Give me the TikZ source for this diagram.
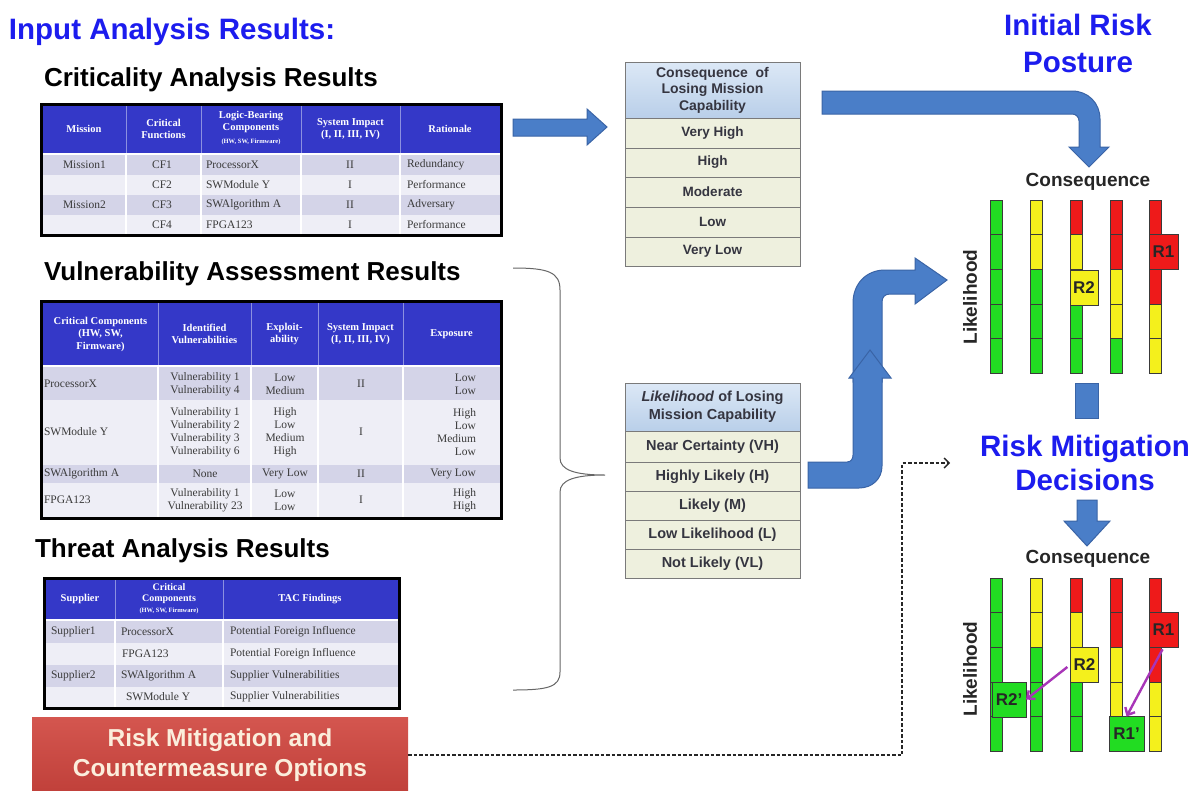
\documentclass[tikz,border=0pt]{standalone}
\usepackage{fontspec}
\setmainfont{Liberation Sans}
\newfontfamily\tabfont{Liberation Serif}
\usetikzlibrary{arrows.meta}

\definecolor{titleblue}{HTML}{1C1CEE}
\definecolor{arrowblue}{HTML}{4A7EC8}
\definecolor{arrowedge}{HTML}{3A64A6}
\definecolor{hdrblue}{HTML}{3438C8}
\definecolor{hdrline}{HTML}{8C90E0}
\definecolor{rowdark}{HTML}{D4D4E8}
\definecolor{rowlight}{HTML}{EEEEF6}
\definecolor{tabgray}{HTML}{3A3A3A}
\definecolor{mG}{HTML}{22DC22}
\definecolor{mY}{HTML}{F4F01C}
\definecolor{mR}{HTML}{EE1A1A}
\definecolor{gridline}{HTML}{3A3A3A}
\definecolor{purp}{HTML}{A835B8}
\definecolor{scaletop}{HTML}{DCE8F6}
\definecolor{scalebot}{HTML}{B9CFE9}
\definecolor{scalerow}{HTML}{EEF0DE}
\definecolor{scaleedge}{HTML}{7A7A7A}
\definecolor{scaletext}{HTML}{353540}
\definecolor{opttop}{HTML}{D4564F}
\definecolor{optbot}{HTML}{C0403A}
\definecolor{opttext}{HTML}{FBEEDC}

% small print used for the "(HW, SW, Firmware)" notes in table headers
\newcommand{\tsmallfont}{\fontsize{6.5}{8}\selectfont}

% a column of five coloured cells for each consequence level
\newcommand{\riskgrid}[1]{%
  \foreach \cx/\cl in {990/{G,G,G,G,G},1030/{Y,Y,G,G,G},1070/{R,Y,Y,G,G},1110/{R,R,Y,Y,G},1149/{R,R,R,Y,Y}}{%
    \foreach \cc [count=\r from 0] in \cl {%
      \filldraw[fill=m\cc, draw=gridline, line width=0.6] (\cx,{#1+\r*34.6}) rectangle ++(12,34.6);
    }%
  }%
}

\tikzset{
  every node/.style={inner sep=0pt, outer sep=0pt},
  bluetitle/.style={font=\bfseries\fontsize{29.5}{32}\selectfont, text=titleblue, anchor=base},
  sectitle/.style={font=\bfseries\fontsize{26}{28}\selectfont, text=black, anchor=base west},
  thead/.style={font=\tabfont\bfseries\fontsize{10.5}{12.5}\selectfont, text=white, align=center},
  tcell/.style={font=\tabfont\fontsize{11.5}{13}\selectfont, text=tabgray, align=center},
  scalehead/.style={draw=scaleedge, top color=scaletop, bottom color=scalebot, minimum width=175pt,
    text=scaletext, align=center, font=\bfseries\fontsize{14}{16.5}\selectfont},
  scalecell/.style={draw=scaleedge, fill=scalerow, minimum width=175pt,
    text=scaletext, font=\bfseries\fontsize{13.5}{15}\selectfont},
  blockarrow/.style={fill=arrowblue, draw=arrowedge, line width=1},
  axislabel/.style={font=\bfseries\fontsize{19}{21}\selectfont, text=black!85},
  rbox/.style={draw=gridline, line width=0.6, minimum height=35pt, font=\bfseries\fontsize{17}{17}\selectfont, text=black!85},
  movearrow/.style={draw=purp, line width=2.4, -{Straight Barb[length=6pt,width=11pt]}},
  optbox/.style={top color=opttop, bottom color=optbot, minimum width=376pt, minimum height=76pt,
    text=opttext, align=center, font=\bfseries\fontsize{24.5}{30}\selectfont},
  dashconn/.style={draw=black!85, line width=1.4, dash pattern=on 3.5pt off 2pt, -{Straight Barb[length=5pt,width=10pt]}},
  bracket/.style={draw=black!60, line width=1}
}

\begin{document}
\begin{tikzpicture}[x=1pt,y=-1pt]
\useasboundingbox (0,0) rectangle (1198,790);
\fill[white] (0,0) rectangle (1198,790);

% ---------- titles ----------
\node[bluetitle, anchor=base west] (intitle) at (9,39) {Input Analysis Results:};
\node[sectitle] (crittitle) at (44,86) {Criticality Analysis Results};
\node[sectitle] (vulntitle) at (44,280) {Vulnerability Assessment Results};
\node[sectitle] (thrtitle) at (35,557) {Threat Analysis Results};

% ---------- criticality table ----------
\fill[black] (40,103) rectangle (503,237);
\fill[white] (43,106) rectangle (500,234);
\fill[hdrblue] (43,106) rectangle (500,153);
\fill[rowdark] (43,155) rectangle (500,175);
\fill[rowlight] (43,175) rectangle (500,195);
\fill[rowdark] (43,195) rectangle (500,215);
\fill[rowlight] (43,215) rectangle (500,234);
\foreach \x in {126,201,301,400}{
  \draw[hdrline, line width=0.8] (\x,106) -- (\x,153);
  \draw[white, line width=2] (\x,155) -- (\x,234);
}
\node[thead] (ca-h1) at (84,129) {Mission};
\node[thead] (ca-h2) at (163.5,129) {Critical\\Functions};
\node[thead] (ca-h3) at (251,128) {Logic-Bearing\\Components\\{\tsmallfont(HW, SW, Firmware)}};
\node[thead] (ca-h4) at (350.5,129) {System Impact\\(I, II, III, IV)};
\node[thead] (ca-h5) at (450,129) {Rationale};

\node[tcell, anchor=west] (ca-m1) at (63,165) {Mission1};
\node[tcell] (ca-f1) at (162,165) {CF1};
\node[tcell, anchor=west] (ca-c1) at (206,165) {ProcessorX};
\node[tcell] (ca-i1) at (350,165) {II};
\node[tcell, anchor=west] (ca-r1) at (407,165) {Redundancy};

\node[tcell] (ca-f2) at (162,185) {CF2};
\node[tcell, anchor=west] (ca-c2) at (206,185) {SWModule Y};
\node[tcell] (ca-i2) at (350,185) {I};
\node[tcell, anchor=west] (ca-r2) at (407,185) {Performance};

\node[tcell, anchor=west] (ca-m3) at (63,205) {Mission2};
\node[tcell] (ca-f3) at (162,205) {CF3};
\node[tcell, anchor=west] (ca-c3) at (206,205) {SWAlgorithm A};
\node[tcell] (ca-i3) at (350,205) {II};
\node[tcell, anchor=west] (ca-r3) at (407,205) {Adversary};

\node[tcell] (ca-f4) at (162,225) {CF4};
\node[tcell, anchor=west] (ca-c4) at (206,225) {FPGA123};
\node[tcell] (ca-i4) at (350,225) {I};
\node[tcell, anchor=west] (ca-r4) at (407,225) {Performance};

% ---------- vulnerability table ----------
\fill[black] (40,300) rectangle (503,520);
\fill[white] (43,303) rectangle (500,517);
\fill[hdrblue] (43,303) rectangle (500,365);
\fill[rowdark] (43,367) rectangle (500,400);
\fill[rowlight] (43,400) rectangle (500,465);
\fill[rowdark] (43,465) rectangle (500,483);
\fill[rowlight] (43,483) rectangle (500,517);
\foreach \x in {158,251,318,403}{
  \draw[hdrline, line width=0.8] (\x,303) -- (\x,365);
  \draw[white, line width=2] (\x,367) -- (\x,517);
}
\node[thead] (va-h1) at (100.5,334) {Critical Components\\(HW, SW,\\Firmware)};
\node[thead] (va-h2) at (204.5,334) {Identified\\Vulnerabilities};
\node[thead] (va-h3) at (284.5,334) {Exploit-\\ability};
\node[thead] (va-h4) at (360.5,334) {System Impact\\(I, II, III, IV)};
\node[thead] (va-h5) at (451.5,334) {Exposure};

\node[tcell, anchor=west] (va-c1) at (44,384) {ProcessorX};
\node[tcell] (va-v1) at (205,384) {Vulnerability 1\\Vulnerability 4};
\node[tcell] (va-e1) at (285,384) {Low\\Medium};
\node[tcell] (va-i1) at (361,384) {II};
\node[tcell, anchor=east, align=right] (va-x1) at (476,384) {Low\\Low};

\node[tcell, anchor=west] (va-c2) at (44,432) {SWModule Y};
\node[tcell] (va-v2) at (205,432) {Vulnerability 1\\Vulnerability 2\\Vulnerability 3\\Vulnerability 6};
\node[tcell] (va-e2) at (285,432) {High\\Low\\Medium\\High};
\node[tcell] (va-i2) at (361,432) {I};
\node[tcell, anchor=east, align=right] (va-x2) at (476,432) {High\\Low\\Medium\\Low};

\node[tcell, anchor=west] (va-c3) at (44,474) {SWAlgorithm A};
\node[tcell] (va-v3) at (205,474) {None};
\node[tcell] (va-e3) at (285,474) {Very Low};
\node[tcell] (va-i3) at (361,474) {II};
\node[tcell, anchor=east, align=right] (va-x3) at (476,474) {Very Low};

\node[tcell, anchor=west] (va-c4) at (44,500) {FPGA123};
\node[tcell] (va-v4) at (205,500) {Vulnerability 1\\Vulnerability 23};
\node[tcell] (va-e4) at (285,500) {Low\\Low};
\node[tcell] (va-i4) at (361,500) {I};
\node[tcell, anchor=east, align=right] (va-x4) at (476,500) {High\\High};

% ---------- threat table ----------
\fill[black] (43,577) rectangle (401,710);
\fill[white] (46,580) rectangle (398,707);
\fill[hdrblue] (46,580) rectangle (398,619);
\fill[rowdark] (46,621) rectangle (398,643);
\fill[rowlight] (46,643) rectangle (398,665);
\fill[rowdark] (46,665) rectangle (398,687);
\fill[rowlight] (46,687) rectangle (398,707);
\foreach \x in {115,223}{
  \draw[hdrline, line width=0.8] (\x,580) -- (\x,619);
  \draw[white, line width=2] (\x,621) -- (\x,707);
}
\node[thead] (ta-h1) at (80,599) {Supplier};
\node[thead, font=\tabfont\bfseries\fontsize{10}{11}\selectfont] (ta-h2) at (169,599) {Critical\\Components\\{\tsmallfont(HW, SW, Firmware)}};
\node[thead] (ta-h3) at (310,599) {TAC Findings};

\node[tcell, anchor=west] (ta-s1) at (51,632) {Supplier1};
\node[tcell, anchor=west] (ta-c1) at (121,632) {ProcessorX};
\node[tcell, anchor=west] (ta-f1) at (230,632) {Potential Foreign Influence};
\node[tcell, anchor=west] (ta-c2) at (122,654) {FPGA123};
\node[tcell, anchor=west] (ta-f2) at (230,654) {Potential Foreign Influence};
\node[tcell, anchor=west] (ta-s3) at (51,676) {Supplier2};
\node[tcell, anchor=west] (ta-c3) at (121,676) {SWAlgorithm A};
\node[tcell, anchor=west] (ta-f3) at (230,676) {Supplier Vulnerabilities};
\node[tcell, anchor=west] (ta-c4) at (126,697) {SWModule Y};
\node[tcell, anchor=west] (ta-f4) at (230,697) {Supplier Vulnerabilities};

% ---------- mitigation options ----------
\node[optbox] (opts) at (220,755) {Risk Mitigation and\\Countermeasure Options};

% ---------- bracket gathering the three analyses ----------
\draw[bracket] (513,268) .. controls (548,268) and (560,272) .. (560,290)
  -- (560,458) .. controls (560,470) and (575,475) .. (605,475)
  .. controls (575,475) and (560,480) .. (560,492)
  -- (560,672) .. controls (560,687) and (548,690) .. (513,690);

% ---------- consequence scale ----------
\node[scalehead, minimum height=56pt] (chead) at (712.5,90) {Consequence\ \ of\\Losing Mission\\Capability};
\node[scalecell, minimum height=30pt] (c1) at (712.5,133) {Very High};
\node[scalecell, minimum height=29pt] (c2) at (712.5,162.5) {High};
\node[scalecell, minimum height=30pt] (c3) at (712.5,192) {Moderate};
\node[scalecell, minimum height=30pt] (c4) at (712.5,222) {Low};
\node[scalecell, minimum height=29pt] (c5) at (712.5,251.5) {Very Low};

% ---------- likelihood scale ----------
\node[scalehead, minimum height=48pt, font=\bfseries\fontsize{14.5}{18}\selectfont] (lhead) at (712.5,407) {\textit{Likelihood} of Losing\\Mission Capability};
\node[scalecell, minimum height=31pt, font=\bfseries\fontsize{14.5}{16}\selectfont] (l1) at (712.5,446.5) {Near Certainty (VH)};
\node[scalecell, minimum height=29pt, font=\bfseries\fontsize{14.5}{16}\selectfont] (l2) at (712.5,476.5) {Highly Likely (H)};
\node[scalecell, minimum height=29pt, font=\bfseries\fontsize{14.5}{16}\selectfont] (l3) at (712.5,505.5) {Likely (M)};
\node[scalecell, minimum height=29pt, font=\bfseries\fontsize{14.5}{16}\selectfont] (l4) at (712.5,534.5) {Low Likelihood (L)};
\node[scalecell, minimum height=29pt, font=\bfseries\fontsize{14.5}{16}\selectfont] (l5) at (712.5,563.5) {Not Likely (VL)};

% ---------- block arrows ----------
\path[blockarrow] (513,119) -- (587,119) -- (587,109) -- (607,127) -- (587,145) -- (587,136) -- (513,136) -- cycle;
\path[blockarrow] (822,91) -- (1072,91) .. controls (1088,91) and (1100,103) .. (1100,119)
  -- (1100,147) -- (1109,147) -- (1089,167) -- (1069,147) -- (1079,147) -- (1079,121)
  .. controls (1079,117) and (1076,114) .. (1072,114) -- (822,114) -- cycle;
\path[blockarrow] (853,382) -- (853,303) .. controls (853,284) and (866,270) .. (885,270)
  -- (915,270) -- (915,258) -- (947,280) -- (915,304) -- (915,294) -- (890,294)
  .. controls (885,294) and (882,297) .. (882,302) -- (882,382) -- cycle;
\path[blockarrow] (808,462) -- (847,462) .. controls (851,462) and (853,459) .. (853,455)
  -- (853,378) -- (849,378) -- (870,350) -- (891,378) -- (882,378) -- (882,466)
  .. controls (882,479) and (872,488) .. (859,488) -- (808,488) -- cycle;
\path[blockarrow] (1075,383) rectangle (1098,418);
\path[blockarrow] (1077,500) -- (1097,500) -- (1097,521) -- (1110,521) -- (1087,546) -- (1064,521) -- (1077,521) -- cycle;

% ---------- right column titles ----------
\node[bluetitle] (irp1) at (1078,35) {Initial Risk};
\node[bluetitle] (irp2) at (1078,72) {Posture};
\node[bluetitle] (rmd1) at (1085,456) {Risk Mitigation};
\node[bluetitle] (rmd2) at (1085,490) {Decisions};

% ---------- initial risk matrix ----------
\node[axislabel, anchor=base] (conseq1) at (1088,186) {Consequence};
\node[axislabel, rotate=90] (likely1) at (970,297) {Likelihood};
\riskgrid{200}
\node[rbox, fill=mY, minimum width=28pt] (r2a) at (1084,287.5) {R2};
\node[rbox, fill=mR, minimum width=29pt] (r1a) at (1163.5,252) {R1};

% ---------- mitigated risk matrix ----------
\node[axislabel, anchor=base] (conseq2) at (1088,563) {Consequence};
\node[axislabel, rotate=90] (likely2) at (970,669) {Likelihood};
\riskgrid{578}
\node[rbox, fill=mY, minimum width=28pt] (r2b) at (1084.5,664.5) {R2};
\node[rbox, fill=mR, minimum width=29pt] (r1b) at (1163.5,630) {R1};
\node[rbox, fill=mG, minimum width=34pt] (r2p) at (1009,699.5) {R2'};
\node[rbox, fill=mG, minimum width=35pt] (r1p) at (1126.5,734) {R1'};
\draw[movearrow, shorten <=4pt] (r2b.west) -- (r2p.east);
\draw[movearrow, shorten <=2pt] (r1b.south) -- (r1p.north);

% ---------- countermeasure feed ----------
\coordinate (dashturn) at (902,463);
\coordinate (dashend) at (950,463);
\draw[dashconn] (opts.east) -| (dashturn) -- (dashend);
\end{tikzpicture}
\end{document}
